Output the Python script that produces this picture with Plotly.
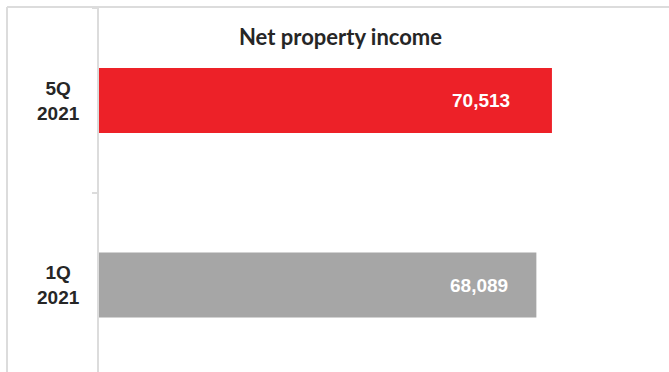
import plotly.graph_objects as go

# Net property income by period
periods = ["5Q 2021", "1Q 2021"]
npi = [70513, 68089]
bar_colors = ["#ED2128", "#A6A6A6"]

W, H = 669, 372
M_L, M_R, M_T, M_B = 99, 24, 8, 0
plot_w = W - M_L - M_R
plot_h = H - M_T - M_B


def px_to_paper_x(px):
    return (px - M_L) / plot_w


def px_to_paper_y(py):
    return 1 - (py - M_T) / plot_h


fig = go.Figure(
    go.Bar(
        y=periods,
        x=npi,
        orientation="h",
        width=0.352,
        marker=dict(color=bar_colors, line=dict(width=0)),
        hoverinfo="skip",
    )
)

annotations = []
# value labels inside the bars
for p, v, pad in zip(periods, npi, [40, 26]):
    annotations.append(dict(
        x=v, y=p, xref="x", yref="y", text=f"<b>{v:,}</b>", showarrow=False,
        xanchor="right", yanchor="middle", xshift=-pad,
        font=dict(family="Liberation Sans", size=19, color="#FFFFFF"),
    ))
# centred two-line category labels
for p in periods:
    annotations.append(dict(
        x=px_to_paper_x(58.5), y=p, xref="paper", yref="y",
        text="<b>" + p.replace(" ", "<br>") + "</b>", showarrow=False,
        xanchor="center", yanchor="middle", align="center",
        font=dict(family="Liberation Sans", size=19, color="#262626"),
    ))
# chart title
annotations.append(dict(
    x=px_to_paper_x(340), y=px_to_paper_y(37), xref="paper", yref="paper",
    text="<b>Net property income</b>", showarrow=False,
    xanchor="center", yanchor="middle",
    font=dict(family="Lato", size=22, color="#262626"),
))

frame_color = "#DCDCDC"
shapes = [
    dict(type="line", xref="paper", yref="paper",
         x0=px_to_paper_x(7), x1=px_to_paper_x(W + 2),
         y0=px_to_paper_y(7), y1=px_to_paper_y(7),
         line=dict(color=frame_color, width=2)),
    dict(type="line", xref="paper", yref="paper",
         x0=px_to_paper_x(7), x1=px_to_paper_x(7),
         y0=px_to_paper_y(7), y1=px_to_paper_y(H + 2),
         line=dict(color=frame_color, width=2)),
]

fig.update_layout(
    width=W, height=H,
    margin=dict(l=M_L, r=M_R, t=M_T, b=M_B, autoexpand=False),
    paper_bgcolor="white", plot_bgcolor="white",
    showlegend=False,
    annotations=annotations,
    shapes=shapes,
    xaxis=dict(range=[0, 85000], visible=False, fixedrange=True),
    yaxis=dict(
        type="category",
        categoryorder="array", categoryarray=periods[::-1],
        range=[-0.4715, 1.5014],
        showticklabels=False, showgrid=False, zeroline=False,
        showline=True, linecolor=frame_color, linewidth=1.5,
        ticks="outside", ticklen=5, tickcolor=frame_color, tickwidth=1.5,
        tickson="boundaries", fixedrange=True,
    ),
)

fig.write_html("out.html")
